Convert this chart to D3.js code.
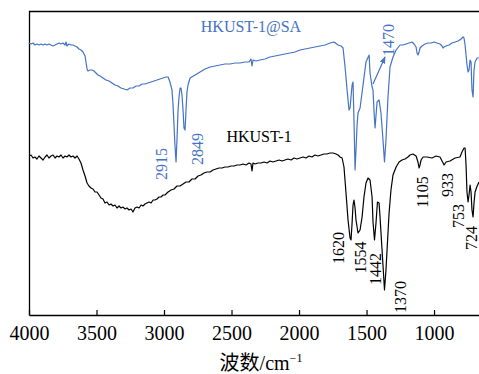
<!DOCTYPE html>
<html><head><meta charset="utf-8">
<script src="https://cdn.jsdelivr.net/npm/d3@7"></script>
<style>html,body{margin:0;padding:0;background:#fff;} svg{display:block;}</style>
</head><body>
<script>
// ---- DATA (wavenumber cm^-1, relative transmittance a.u.) ----
const hkust = [[4000,79.5],[3985,80],[3970,78.5],[3956,79],[3941,78],[3926,79.5],[3911,78.5],[3896,77.5],[3881,79],[3867,80],[3852,78.5],[3837,79.5],[3822,80],[3807,78.5],[3793,79.5],[3778,79],[3763,80],[3748,78.5],[3733,79.5],[3719,79],[3704,80],[3689,79],[3674,79.5],[3659,78.5],[3644,79.5],[3630,78],[3615,76],[3600,72.5],[3585,69.5],[3570,66],[3556,64.5],[3541,63.5],[3526,63],[3511,61.5],[3496,61.5],[3481,60],[3467,58.5],[3452,58],[3437,56],[3422,56.5],[3407,55],[3393,55.5],[3378,54.5],[3363,55],[3348,53.5],[3333,54.5],[3319,53.5],[3304,54],[3289,53],[3274,53.5],[3259,52.5],[3244,53],[3230,51.5],[3215,53.5],[3200,54],[3185,53.5],[3170,55],[3156,54.5],[3141,55.5],[3126,56],[3111,56.5],[3096,56],[3081,57.5],[3067,57.5],[3052,58],[3037,59],[3022,59],[3007,60],[2993,60],[2970,61.5],[2948,62.5],[2926,63],[2904,64.5],[2881,64.5],[2859,65.5],[2837,66.5],[2815,66.5],[2793,68],[2770,68],[2748,69.5],[2726,70],[2704,71],[2681,71.5],[2659,71.5],[2637,72.5],[2615,73],[2593,73.5],[2570,73.5],[2548,74],[2526,74],[2504,74.5],[2481,74.5],[2459,75],[2437,75],[2415,75.5],[2393,75],[2370,76],[2356,75.5],[2348,72],[2341,76],[2326,75.5],[2304,76],[2281,76],[2259,76.5],[2237,76],[2215,77],[2193,76.5],[2170,77],[2148,77.5],[2126,77],[2104,77.5],[2082,78],[2059,77.5],[2037,78.5],[2015,78],[1993,78.5],[1970,79],[1948,78.5],[1926,79.5],[1904,79],[1882,80],[1859,79.5],[1837,80],[1815,80.5],[1793,80.5],[1770,81],[1748,81],[1726,80.5],[1711,80],[1696,79],[1681,78.5],[1667,74],[1652,61],[1637,47.5],[1622,38.5],[1615,37.5],[1607,46],[1600,55],[1593,57.5],[1585,53.5],[1578,47.5],[1563,41],[1548,42.5],[1533,49],[1519,59],[1504,66],[1489,68.5],[1474,67.5],[1459,59],[1452,46.5],[1441,37.5],[1430,46],[1419,56.5],[1407,56],[1400,49],[1385,32.5],[1367,12.5],[1356,22.5],[1344,37.5],[1333,51],[1319,62.5],[1304,70],[1281,74],[1259,76.5],[1237,77.5],[1215,78],[1193,79],[1178,80],[1156,80.5],[1133,79.5],[1119,76.5],[1111,73.5],[1104,75],[1096,77.5],[1081,79],[1052,79],[1015,78.5],[985,79.5],[956,79],[933,76],[926,75],[911,76.5],[882,77],[844,78.5],[808,79],[793,81.5],[778,83.5],[770,83.5],[763,75],[756,61.5],[748,56.5],[741,60],[733,65],[726,61.5],[719,52.5],[711,49],[704,56],[696,61.5],[681,64.5],[667,66.5]];

const hkustSA = [[4000,136],[3985,135.5],[3970,136],[3956,135],[3941,135.5],[3926,135],[3911,135.5],[3896,135],[3881,135.5],[3867,135],[3852,135.5],[3837,135],[3822,134.5],[3807,135],[3793,135.5],[3778,136],[3763,135.5],[3748,136],[3733,135],[3726,136.5],[3719,134.5],[3704,135.5],[3689,135],[3674,135],[3659,134.5],[3644,134],[3630,133],[3615,132.5],[3600,131.5],[3585,129.5],[3578,126.5],[3570,123],[3563,122],[3548,122.5],[3533,122.5],[3519,122],[3504,121],[3489,120],[3474,119.5],[3452,118.5],[3430,117.5],[3407,117],[3385,116],[3363,115],[3341,114.5],[3319,113.5],[3296,113],[3274,112.5],[3252,113.5],[3230,113.5],[3207,114.5],[3185,114.5],[3163,115.5],[3141,115.5],[3119,116],[3096,116.5],[3074,117],[3052,117.5],[3030,118],[3007,118.5],[2985,119],[2970,119],[2956,116.5],[2941,112.5],[2933,105],[2926,95],[2919,85],[2911,76.5],[2904,87.5],[2896,102.5],[2889,109],[2881,113.5],[2874,113.5],[2867,110],[2859,102.5],[2852,93.5],[2844,92.5],[2837,102.5],[2830,111.5],[2822,115],[2807,118.5],[2770,120],[2733,121.5],[2696,123],[2659,124],[2622,124.5],[2585,125],[2548,125.5],[2511,125.5],[2474,126],[2437,126],[2400,126.5],[2370,126.5],[2356,128],[2348,124.5],[2341,127.5],[2319,127],[2289,127.5],[2252,128],[2215,129],[2178,129.5],[2141,130],[2104,130.5],[2067,131],[2030,131.5],[1993,132.5],[1956,133],[1919,133.5],[1882,134],[1844,134.5],[1807,135],[1770,136],[1741,136.5],[1711,135],[1689,134.5],[1674,133.5],[1659,124],[1644,112.5],[1630,102.5],[1622,103.5],[1615,109],[1607,115],[1600,116.5],[1593,97.5],[1585,72.5],[1578,82.5],[1570,95],[1563,101],[1548,103.5],[1526,115],[1504,126.5],[1481,130],[1474,121],[1459,114],[1452,112.5],[1444,101],[1437,93.5],[1422,106.5],[1407,107.5],[1393,101],[1378,87.5],[1367,76.5],[1356,87.5],[1341,109],[1326,124],[1304,129],[1281,132.5],[1252,135],[1230,135],[1207,135.5],[1185,136],[1163,136.5],[1148,135.5],[1133,134],[1126,131],[1119,130],[1111,131.5],[1104,133.5],[1089,134.5],[1067,135.5],[1044,136],[1022,136],[1000,136.5],[978,136],[956,135.5],[941,134.5],[933,133.5],[926,134],[911,134.5],[889,135],[867,136],[844,136.5],[822,137],[800,138],[785,139],[778,138.5],[770,135],[763,130],[756,125],[748,121.5],[741,122.5],[733,127.5],[726,126.5],[719,112.5],[711,109],[704,122.5],[696,126.5],[681,128.5],[667,128.5]];

const xTicks = [4000, 3500, 3000, 2500, 2000, 1500, 1000];
const seriesNames = ["HKUST-1@SA", "HKUST-1"];
const peaksSA = ["2915", "2849", "1470"];
const peaksH = ["1620", "1554", "1442", "1370", "1105", "933", "753", "724"];
const xTitle = "波数/cm";
const xTitleSup = "−1";

// ---- LAYOUT ----
const W = 479, H = 374;
const blue = "#4472C4";
const serif = "'Liberation Serif','Times New Roman',serif";
const x = d3.scaleLinear().domain([4000, 667]).range([29, 479]);
const y = d3.scaleLinear().domain([0, 152]).range([315, 11]);

// label anchor positions (data coordinates)
const posSA = [[3015, 75.5], [2752, 83], [1341, 137.5]];
const posH = [[1707, 33.5], [1541, 28.75], [1430, 23], [1252, 9], [1082, 61.5], [904, 65], [822, 49.5], [719, 38.5]];
const namePos = [[2356, 141.5], [2296, 86.75]];
const arrowFrom = [1452, 115.5], arrowTo = [1363, 129];

const svg = d3.select("body").append("svg").attr("width", W).attr("height", H);

// frame (left + top)
svg.append("path")
  .attr("d", `M29.5,315.5V11.5H479`)
  .attr("fill", "none").attr("stroke", "#000").attr("stroke-width", 1.3);

// x axis
const ax = svg.append("g").attr("transform", "translate(0,315)")
  .call(d3.axisBottom(x).tickValues(xTicks).tickSizeInner(-5).tickSizeOuter(0).tickPadding(11).tickFormat(d3.format("d")));
ax.attr("font-family", null).attr("font-size", null);
ax.select(".domain").attr("stroke-width", 1.3);
ax.selectAll(".tick line").attr("stroke-width", 1.2);
ax.selectAll(".tick text").style("font-family", serif).style("font-size", "20px").attr("fill", "#000");

// axis title
const t = svg.append("text").attr("x", 261).attr("y", 370).attr("text-anchor", "middle")
  .style("font-family", "'Liberation Serif','Noto Sans CJK SC',serif").style("font-size", "20px").attr("fill", "#000");
t.append("tspan").text(xTitle);
t.append("tspan").attr("dy", -8).style("font-size", "12px").text(xTitleSup);

// lines
const line = d3.line().x(d => x(d[0])).y(d => y(d[1]));
svg.append("path").datum(hkust).attr("d", line).attr("fill", "none")
  .attr("stroke", "#000").attr("stroke-width", 1.2).attr("stroke-linejoin", "round");
svg.append("path").datum(hkustSA).attr("d", line).attr("fill", "none")
  .attr("stroke", blue).attr("stroke-width", 1.2).attr("stroke-linejoin", "round");

// series names
svg.append("text").attr("x", x(namePos[0][0])).attr("y", y(namePos[0][1])).attr("text-anchor", "middle")
  .style("font-family", serif).style("font-size", "16px").attr("fill", blue).text(seriesNames[0]);
svg.append("text").attr("x", x(namePos[1][0])).attr("y", y(namePos[1][1])).attr("text-anchor", "middle")
  .style("font-family", serif).style("font-size", "16px").attr("fill", "#000").text(seriesNames[1]);

// peak labels
function peakLabel(txt, p, col) {
  svg.append("text")
    .attr("transform", `translate(${x(p[0])},${y(p[1])}) rotate(-90)`)
    .attr("text-anchor", "middle").attr("dominant-baseline", "central")
    .style("font-family", serif).style("font-size", "16px").attr("fill", col).text(txt);
}
peaksSA.forEach((s, i) => peakLabel(s, posSA[i], blue));
peaksH.forEach((s, i) => peakLabel(s, posH[i], "#000"));

// arrow
svg.append("defs").append("marker").attr("id", "ah").attr("viewBox", "0 0 10 10")
  .attr("refX", 9).attr("refY", 5).attr("markerWidth", 7).attr("markerHeight", 7)
  .attr("orient", "auto").attr("markerUnits", "userSpaceOnUse")
  .append("path").attr("d", "M0,1L10,5L0,9Z").attr("fill", blue);
svg.append("line")
  .attr("x1", x(arrowFrom[0])).attr("y1", y(arrowFrom[1]))
  .attr("x2", x(arrowTo[0])).attr("y2", y(arrowTo[1]))
  .attr("stroke", blue).attr("stroke-width", 1.2).attr("marker-end", "url(#ah)");
</script>
</body></html>
